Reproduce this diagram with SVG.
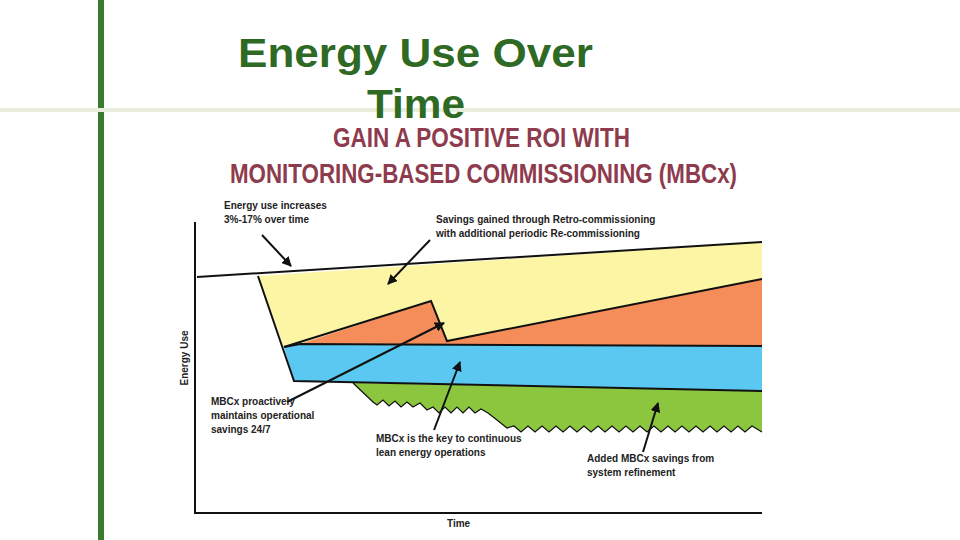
<svg xmlns="http://www.w3.org/2000/svg" width="960" height="540" viewBox="0 0 960 540">
<defs>
<style>
.t{font-family:"Liberation Sans",Arial,sans-serif;font-size:10px;font-weight:bold;fill:#222}
.ln{stroke:#111;stroke-width:2;fill:none}
.ar{stroke:#111;stroke-width:2;fill:none;marker-end:url(#ah)}
</style>
<marker id="ah" viewBox="0 0 10 10" refX="9" refY="5" markerWidth="5" markerHeight="5" orient="auto"><path d="M0,0L10,5L0,10z" fill="#111"/></marker>
</defs>
<rect width="960" height="540" fill="#fff"/>
<rect x="98" y="0" width="6" height="540" fill="#3a7a2e"/>
<rect x="0" y="108" width="960" height="4" fill="#e9eddc"/>
<g id="title" font-family="Liberation Sans,Arial,sans-serif" font-weight="bold" font-size="41" fill="#2f6a25">
<text x="238" y="67" textLength="355" lengthAdjust="spacingAndGlyphs">Energy Use Over</text>
<text x="367" y="118" textLength="98" lengthAdjust="spacingAndGlyphs">Time</text>
</g>
<g id="subtitle" font-family="Liberation Sans,Arial,sans-serif" font-weight="bold" font-size="27" fill="#8e3b4d">
<text x="333" y="147" textLength="297" lengthAdjust="spacingAndGlyphs">GAIN A POSITIVE ROI WITH</text>
<text x="230" y="183" textLength="507" lengthAdjust="spacingAndGlyphs">MONITORING-BASED COMMISSIONING (MBCx)</text>
</g>
<g id="areas">
<polygon id="green" points="353,383 762,391 762,432 752,426 745,432 738,426 731,432 724,426 717,432 710,426 703,432 696,426 689,432 682,426 675,432 668,426 661,432 654,426 647,432 640,426 633,432 626,426 619,432 612,426 605,432 598,426 591,432 584,426 577,432 570,426 563,432 556,426 549,432 542,426 535,432 528,426 521,432 514,426 507,428 497,420 488,413 481,409 475,413 469,407 463,413 457,407 451,413 445,407 439,413 433,407 427,410 420,403 413,407 407,402 401,407 395,401 389,406 383,400 377,405 373,402" fill="#8cc63f"/>
<polyline points="353,383 373,402 377,405 383,400 389,406 395,401 401,407 407,402 413,407 420,403 427,410 433,407 439,413 445,407 451,413 457,407 463,413 469,407 475,413 481,409 488,413 497,420 507,428 514,426 521,432 528,426 535,432 542,426 549,432 556,426 563,432 570,426 577,432 584,426 591,432 598,426 605,432 612,426 619,432 626,426 633,432 640,426 647,432 654,426 661,432 668,426 675,432 682,426 689,432 696,426 703,432 710,426 717,432 724,426 731,432 738,426 745,432 752,426 762,432" fill="none" stroke="#111" stroke-width="1.2"/>
<polygon id="yellow" points="258,276 762,242 762,279 447,341 431,301 300,344 284,347" fill="#fbf5a4"/>
<polygon id="orange" points="300,344 431,301 447,341 762,279 762,346 300,345" fill="#f58d5b"/>
<polygon id="blue" points="284,347 300,344 762,346 762,391 294,381" fill="#5bc8f2"/>
</g>
<g id="connectors">
<path class="ln" d="M197,277 L762,242" stroke-width="3"/>
<path class="ln" d="M258,276 L294,381 L762,391"/>
<path class="ln" d="M284,347 L431,301 L447,341 L762,279"/>
<path class="ln" d="M284,347 L300,344 L762,346"/>
<path class="ln" d="M195,222 L195,513 L762,513" stroke-width="3"/>
<path class="ar" d="M262,235 L291,266"/>
<path class="ar" d="M430,240 L388,284"/>
<path class="ar" d="M287,402 L444,323"/>
<path class="ar" d="M434,430 L460,362"/>
<path class="ar" d="M643,452 L658,403"/>
</g>
<g id="labels">
<text class="t" x="224" y="209">Energy use increases</text>
<text class="t" x="224" y="223">3%-17% over time</text>
<text class="t" x="436" y="223">Savings gained through Retro-commissioning</text>
<text class="t" x="436" y="237">with additional periodic Re-commissioning</text>
<text class="t" x="211" y="405">MBCx proactively</text>
<text class="t" x="211" y="419">maintains operational</text>
<text class="t" x="211" y="433">savings 24/7</text>
<text class="t" x="376" y="442">MBCx is the key to continuous</text>
<text class="t" x="376" y="456">lean energy operations</text>
<text class="t" x="587" y="462">Added MBCx savings from</text>
<text class="t" x="587" y="476">system refinement</text>
<text class="t" x="447" y="527" font-size="11">Time</text>
<text class="t" x="188" y="358" text-anchor="middle" transform="rotate(-90 188 358)">Energy Use</text>
</g>
</svg>
